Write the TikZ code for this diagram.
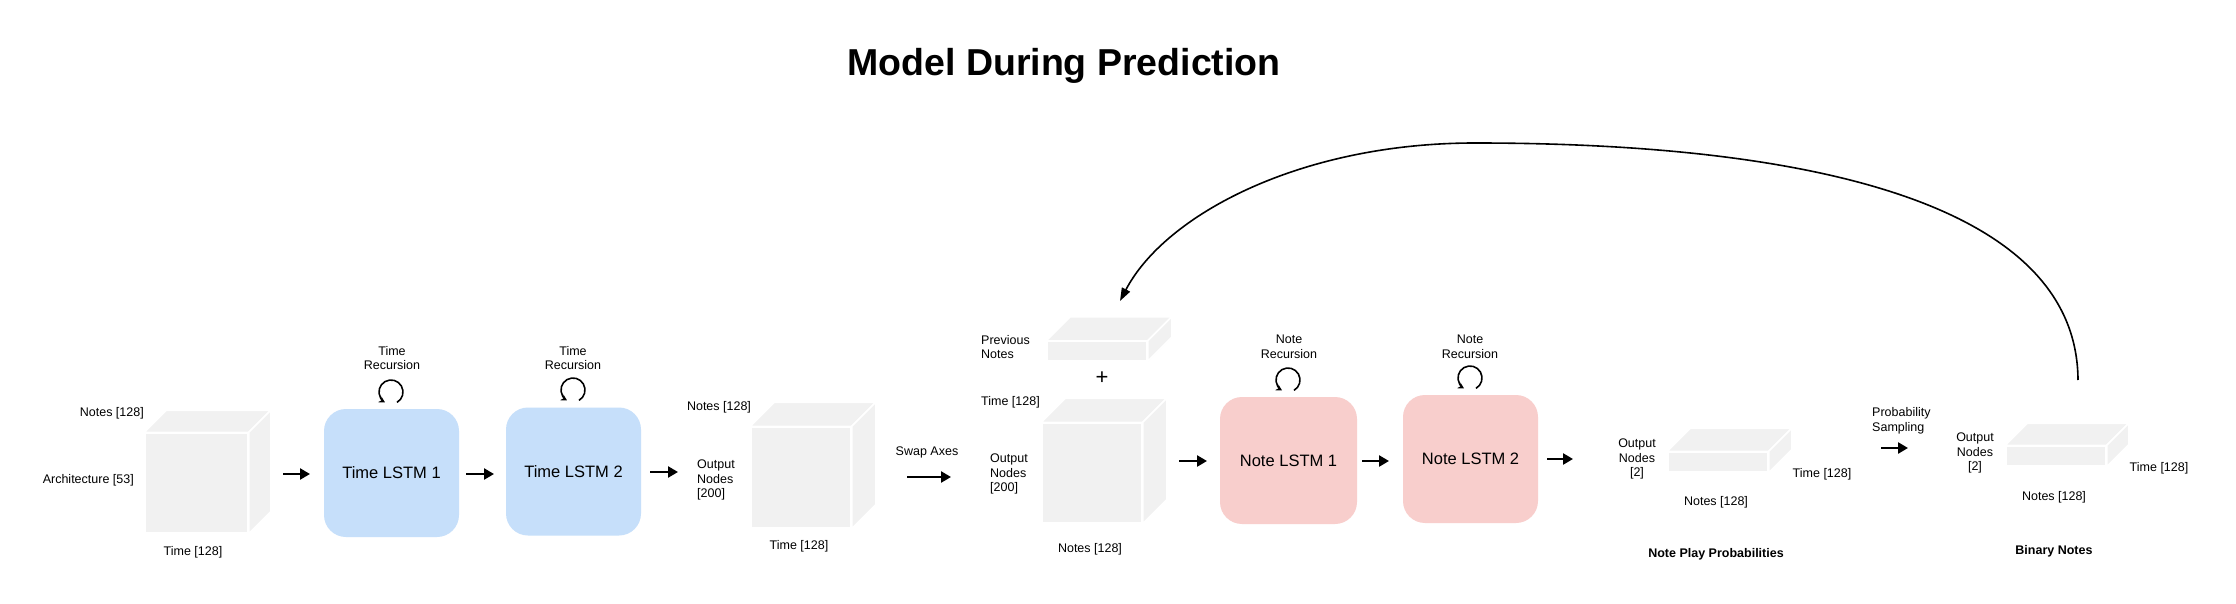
\documentclass[tikz,border=0pt]{standalone}
\usepackage{fontspec}
\setmainfont{Liberation Sans}
\usetikzlibrary{arrows.meta,calc}
\definecolor{cubegray}{HTML}{F1F1F1}
\definecolor{tblue}{HTML}{C6DFFA}
\definecolor{npink}{HTML}{F8CECC}
\tikzset{
  lbl/.style={inner sep=0pt, font=\fontsize{12.5}{14.8}\selectfont, align=center},
  lblb/.style={inner sep=0pt, font=\fontsize{12.5}{14.8}\selectfont\bfseries, align=center},
  lstmt/.style={rounded corners=22pt, fill=tblue, minimum width=135pt, minimum height=128pt, font=\fontsize{16.5}{20}\selectfont, inner sep=0pt},
  lstmn/.style={lstmt, fill=npink},
  face/.style={fill=cubegray, draw=white, line width=1.5pt, inner sep=0pt},
  fwd/.style={line width=2.5pt, -{Triangle[length=10pt,width=11pt]}},
  loopar/.style={line width=1.6pt, -{Stealth[length=6pt,width=6.5pt]}},
  feedback/.style={line width=1.6pt, -{Triangle[length=13pt,width=9pt]}},
}
\newcommand{\cubefaces}[2]{%
  \filldraw[face] (#1.north west) -- (#1.north east) -- ++(#2,-#2) -- ($(#1.north west)+(#2,-#2)$) -- cycle;
  \filldraw[face] (#1.north east) -- ++(#2,-#2) -- ($(#1.south east)+(#2,-#2)$) -- (#1.south east) -- cycle;
}
\begin{document}
\begin{tikzpicture}[x=1pt,y=-1pt]
\useasboundingbox[fill=white] (0,0) rectangle (2236,604);

% title
\node[font=\fontsize{37.5}{45}\selectfont\bfseries, anchor=base, inner sep=0pt] (title) at (1064,76) {Model During Prediction};

% ---------- cube 1 (input)
\node[face, minimum width=103pt, minimum height=100pt] (c1) at (196.5,483) {};
\cubefaces{c1}{22}
\node[lbl, anchor=east] (c1n) at (144,413) {Notes [128]};
\node[lbl, anchor=east] (c1a) at (134,480) {Architecture [53]};
\node[lbl] (c1t) at (193,552) {Time [128]};

% ---------- time LSTMs
\node[lstmt] (tl1) at (391.5,473) {Time LSTM 1};
\node[lstmt] (tl2) at (573.5,471.5) {Time LSTM 2};
\node[lbl] (tr1) at (392,358) {Time\\Recursion};
\node[lbl] (tr2) at (573,358) {Time\\Recursion};
\coordinate (r1) at (391,392);
\coordinate (r2) at (573,390);
\draw[loopar] ($(r1)+(60:12)$) arc[start angle=60, end angle=-240, radius=12];
\draw[loopar] ($(r2)+(60:12)$) arc[start angle=60, end angle=-240, radius=12];

% ---------- cube 2
\node[face, minimum width=100pt, minimum height=101pt] (c2) at (801,477.5) {};
\cubefaces{c2}{24}
\node[lbl] (c2n) at (719,407) {Notes [128]};
\node[lbl, anchor=west, align=left] (c2o) at (697,480) {Output\\Nodes\\{}[200]};
\node[lbl] (c2t) at (799,546) {Time [128]};

\node[lbl] (swap) at (927,452) {Swap Axes};

% ---------- previous notes + cube 3
\node[face, minimum width=100pt, minimum height=19pt] (pv) at (1097,351) {};
\cubefaces{pv}{24}
\node[lbl, anchor=west, align=left] (pvl) at (981,347) {Previous\\Notes};
\node[inner sep=0pt, font=\fontsize{22}{24}\selectfont] (plus) at (1102,378) {+};
\node[face, minimum width=100pt, minimum height=100pt] (c3) at (1092,473) {};
\cubefaces{c3}{24}
\node[lbl, anchor=west] (c3t) at (981,402) {Time [128]};
\node[lbl, anchor=west, align=left] (c3o) at (990,474) {Output\\Nodes\\{}[200]};
\node[lbl] (c3n) at (1090,549) {Notes [128]};

% ---------- note LSTMs
\node[lstmn, minimum width=137pt, minimum height=127pt] (nl1) at (1288.5,460.5) {Note LSTM 1};
\node[lstmn] (nl2) at (1470.5,459) {Note LSTM 2};
\node[lbl] (nr1) at (1289,346.5) {Note\\Recursion};
\node[lbl] (nr2) at (1470,346.5) {Note\\Recursion};
\coordinate (r3) at (1288,380);
\coordinate (r4) at (1470,378);
\draw[loopar] ($(r3)+(60:12)$) arc[start angle=60, end angle=-240, radius=12];
\draw[loopar] ($(r4)+(60:12)$) arc[start angle=60, end angle=-240, radius=12];

% ---------- note play probabilities
\node[face, minimum width=100pt, minimum height=20pt] (pp) at (1718,462) {};
\cubefaces{pp}{23}
\node[lbl] (ppo) at (1637,459) {Output\\Nodes\\{}[2]};
\node[lbl] (ppt) at (1822,474) {Time [128]};
\node[lbl] (ppn) at (1716,502) {Notes [128]};
\node[lblb] (ppl) at (1716,554) {Note Play Probabilities};

\node[lbl, anchor=west, align=left] (samp) at (1872,421) {Probability\\Sampling};

% ---------- binary notes
\node[face, minimum width=100pt, minimum height=20pt] (bn) at (2056,456) {};
\cubefaces{bn}{22}
\node[lbl] (bno) at (1975,453) {Output\\Nodes\\{}[2]};
\node[lbl] (bnt) at (2159,468) {Time [128]};
\node[lbl] (bnn) at (2054,497) {Notes [128]};
\node[lblb] (bnl) at (2054,551) {Binary Notes};

% ---------- forward arrows
\coordinate (a1s) at (283,474);  \coordinate (a1e) at (310,474);
\coordinate (a2s) at (466,474);  \coordinate (a2e) at (494,474);
\coordinate (a3s) at (650,472);  \coordinate (a3e) at (678,472);
\coordinate (a4s) at (907,477);  \coordinate (a4e) at (951,477);
\coordinate (a5s) at (1179,461); \coordinate (a5e) at (1207,461);
\coordinate (a6s) at (1362,461); \coordinate (a6e) at (1389,461);
\coordinate (a7s) at (1547,459); \coordinate (a7e) at (1573,459);
\coordinate (a8s) at (1881,448); \coordinate (a8e) at (1908,448);
\foreach \i in {1,...,8} {\draw[fwd] (a\i s) -- (a\i e);}

% ---------- feedback curve
\coordinate (fbS) at (2078,380);
\coordinate (fbM) at (1475,143);
\coordinate (fbE) at (1120,301);
\draw[feedback] (fbS) .. controls (2077,200) and (1800,143) .. (fbM)
                      .. controls (1300,143) and (1165,215) .. (fbE);
\end{tikzpicture}
\end{document}
